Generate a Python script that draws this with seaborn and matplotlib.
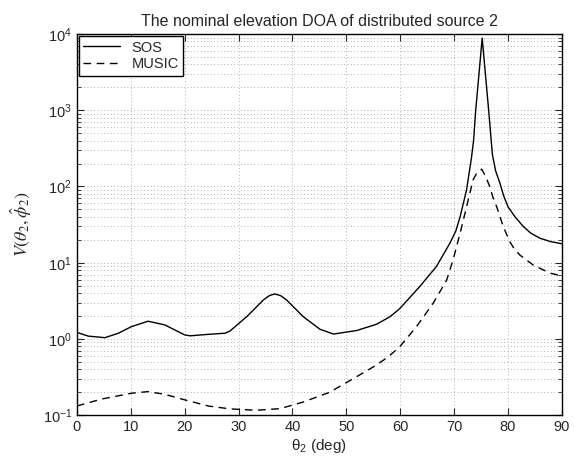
import matplotlib
matplotlib.use("Agg")
import matplotlib.pyplot as plt
import seaborn as sns
import pandas as pd
import numpy as np
from matplotlib.ticker import LogLocator, NullFormatter

sos_theta = [0, 2.1, 5.2, 7.7, 10.1, 13.2, 16.3, 20.0, 21.0, 24.4, 27.5, 28.4, 31.5, 34.6, 35.7,
             36.7, 37.8, 38.9, 42.0, 45.1, 47.6, 51.9, 55.6, 58.1, 59.9, 63.6, 66.7, 69.2, 70.3,
             71.1, 72.3, 73.2, 73.6, 74.0, 75.2, 76.4, 77.1, 77.7, 78.5, 79.2, 80.0, 81.3, 82.8,
             84.2, 85.9, 87.8, 90]
sos_vals = [1.22, 1.09, 1.04, 1.19, 1.45, 1.71, 1.53, 1.13, 1.10, 1.15, 1.19, 1.27, 1.96, 3.25, 3.7,
            3.9, 3.7, 3.25, 1.96, 1.34, 1.16, 1.29, 1.56, 1.96, 2.5, 4.86, 8.9, 18, 26,
            40, 90, 235, 400, 1000, 8830, 1000, 260, 160, 110, 75, 54, 40, 30,
            24.5, 21, 19, 17.7]

music_theta = [0, 4.6, 10.1, 13.2, 16.3, 20.0, 24.4, 28.4, 33.3, 37.7, 42.0, 46.9, 51.9, 55.6,
               57.8, 59.9, 63.0, 66.1, 68.6, 69.8, 71.1, 72.3, 73.5, 74.2, 75.1, 75.8, 76.6,
               77.2, 77.9, 78.5, 79.1, 80.3, 81.2, 82.2, 84.7, 87.8, 90]
music_vals = [0.132, 0.163, 0.194, 0.204, 0.188, 0.159, 0.132, 0.121, 0.116, 0.122, 0.149, 0.20,
              0.32, 0.456, 0.586, 0.79, 1.45, 2.94, 5.9, 10.9, 24.4, 54, 122, 150, 169, 138, 100,
              72, 54, 40, 30, 19, 15, 12.6, 9.3, 7.3, 6.7]

title = "The nominal elevation DOA of distributed source 2"
xlabel = r"$\mathregular{\theta_2}$ (deg)"
ylabel = r"$V(\theta_2,\hat{\phi}_2)$"

sns.set_style("ticks")
plt.rcParams['font.family'] = ['Liberation Sans', 'DejaVu Sans']
plt.rcParams['mathtext.fontset'] = 'stix'

fig = plt.figure(figsize=(5.74, 4.66), dpi=100)
ax = fig.add_axes([0.134, 0.109, 0.845, 0.818])

df_sos = pd.DataFrame({"theta": sos_theta, "V": sos_vals})
df_mus = pd.DataFrame({"theta": music_theta, "V": music_vals})
sns.lineplot(data=df_sos, x="theta", y="V", ax=ax, color="black", lw=1.0, label="SOS")
sns.lineplot(data=df_mus, x="theta", y="V", ax=ax, color="black", lw=1.0,
             linestyle=(0, (5.5, 4)), label="MUSIC")

ax.set_yscale("log")
ax.set_xlim(0, 90)
ax.set_ylim(0.1, 1e4)
ax.set_xticks(range(0, 91, 10))
ax.yaxis.set_major_locator(LogLocator(base=10, numticks=10))
ax.yaxis.set_minor_locator(LogLocator(base=10, subs=np.arange(2, 10), numticks=20))
ax.yaxis.set_minor_formatter(NullFormatter())

ax.grid(True, which="major", axis="both", linestyle=(0, (1, 3)), color="#999999", lw=0.6)
ax.grid(True, which="minor", axis="y", linestyle=(0, (1, 3)), color="#999999", lw=0.6)

ax.tick_params(which="both", direction="in", top=True, right=True, labelsize=10.5)
ax.tick_params(which="major", length=5)
ax.tick_params(which="minor", length=3)
for s in ax.spines.values():
    s.set_linewidth(1.0)
    s.set_color("black")

ax.set_title(title, fontsize=11.5, pad=6)
ax.set_xlabel(xlabel, fontsize=11, labelpad=2)
ax.set_ylabel(ylabel, fontsize=13, labelpad=6)

leg = ax.legend(loc="upper left", fontsize=10.5, frameon=True, fancybox=False,
                borderaxespad=0.15, handlelength=2.5, borderpad=0.3, labelspacing=0.2)
leg.get_frame().set_edgecolor("black")
leg.get_frame().set_linewidth(1.0)
leg.get_frame().set_alpha(1)

fig.savefig("out.png", dpi=100)
